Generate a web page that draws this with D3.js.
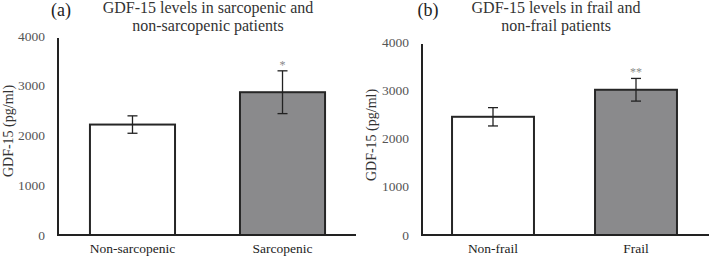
<!DOCTYPE html>
<html>
<head>
<meta charset="utf-8">
<script src="https://cdn.jsdelivr.net/npm/d3@7"></script>
<style>
  body { margin: 0; background: #fff; }
  svg text { font-family: "Liberation Serif", "Times New Roman", serif; }
</style>
</head>
<body>
<div id="chart"></div>
<script>
// data
const sarcoCategories = ["Non-sarcopenic", "Sarcopenic"];
const sarcoMeans = [2220, 2870];
const sarcoErrors = [175, 430];
const sarcoStars = ["", "*"];

const frailCategories = ["Non-frail", "Frail"];
const frailMeans = [2450, 3010];
const frailErrors = [190, 235];
const frailStars = ["", "**"];

const yTicks = [0, 1000, 2000, 3000, 4000];
const barColors = ["#ffffff", "#8a8a8c"];

const svg = d3.select("#chart").append("svg")
    .attr("width", 709).attr("height", 259);

// panel layouts (pixel geometry only)
const panels = [
  {tag: "(a)", title: ["GDF-15 levels in sarcopenic and", "non-sarcopenic patients"],
   cats: sarcoCategories, means: sarcoMeans, errs: sarcoErrors, stars: sarcoStars,
   x0: 58, xEnd: 356, y0: 235, yTop: 36, tagX: 61, titleX: 208, ytitleX: 13, ytitleY: 131,
   pi: 0.433, po: 0.213, rangeEnd: 357},
  {tag: "(b)", title: ["GDF-15 levels in frail and", "non-frail patients"],
   cats: frailCategories, means: frailMeans, errs: frailErrors, stars: frailStars,
   x0: 422, xEnd: 709, y0: 235, yTop: 42, tagX: 428, titleX: 556, ytitleX: 376, ytitleY: 135,
   pi: 0.427, po: 0.21, rangeEnd: 707}
];

panels.forEach(p => {
  const g = svg.append("g");

  const y = d3.scaleLinear().domain([0, 4000]).range([p.y0, p.yTop]);
  const x = d3.scaleBand().domain(p.cats).range([p.x0, p.rangeEnd])
      .paddingInner(p.pi).paddingOuter(p.po);

  // y axis labels
  g.selectAll(".ytick").data(yTicks).enter().append("text")
      .attr("x", p.x0 - 13).attr("y", d => y(d) + 4.5)
      .attr("text-anchor", "end").attr("font-size", 13.5).attr("fill", "#555")
      .text(d => d);

  // bars
  g.selectAll(".bar").data(p.means).enter().append("rect")
      .attr("x", (d, i) => x(p.cats[i]))
      .attr("y", d => y(d))
      .attr("width", x.bandwidth())
      .attr("height", d => p.y0 - y(d))
      .attr("fill", (d, i) => barColors[i])
      .attr("stroke", "#262626").attr("stroke-width", 2);

  // error bars
  p.means.forEach((m, i) => {
    const cx = x(p.cats[i]) + x.bandwidth() / 2;
    const top = y(m + p.errs[i]), bot = y(m - p.errs[i]);
    g.append("line").attr("x1", cx).attr("x2", cx).attr("y1", top).attr("y2", bot)
        .attr("stroke", "#222").attr("stroke-width", 1.3);
    [top, bot].forEach(yy => g.append("line")
        .attr("x1", cx - 5).attr("x2", cx + 5).attr("y1", yy).attr("y2", yy)
        .attr("stroke", "#222").attr("stroke-width", 1.3));
    if (p.stars[i]) {
      g.append("text").attr("x", cx).attr("y", top - 2)
          .attr("text-anchor", "middle").attr("font-size", 12).attr("fill", "#888")
          .text(p.stars[i]);
    }
    // category label
    g.append("text").attr("x", cx).attr("y", 253)
        .attr("text-anchor", "middle").attr("font-size", 13.5).attr("fill", "#222")
        .text(p.cats[i]);
  });

  // axis lines
  g.append("line").attr("x1", p.x0).attr("x2", p.x0).attr("y1", p.yTop + 2).attr("y2", p.y0)
      .attr("stroke", "#222").attr("stroke-width", 2);
  g.append("line").attr("x1", p.x0 - 1).attr("x2", p.xEnd).attr("y1", p.y0).attr("y2", p.y0)
      .attr("stroke", "#222").attr("stroke-width", 2);

  // titles
  g.append("text").attr("x", p.tagX).attr("y", 16)
      .attr("text-anchor", "middle").attr("font-size", 18).attr("fill", "#222")
      .text(p.tag);
  p.title.forEach((t, k) => g.append("text")
      .attr("x", p.titleX).attr("y", 13 + k * 18)
      .attr("text-anchor", "middle").attr("font-size", 16).attr("fill", "#333")
      .text(t));

  // y axis title
  g.append("text")
      .attr("transform", `translate(${p.ytitleX},${p.ytitleY}) rotate(-90)`)
      .attr("text-anchor", "middle").attr("font-size", 14).attr("fill", "#333")
      .text("GDF-15 (pg/ml)");
});
</script>
</body>
</html>
